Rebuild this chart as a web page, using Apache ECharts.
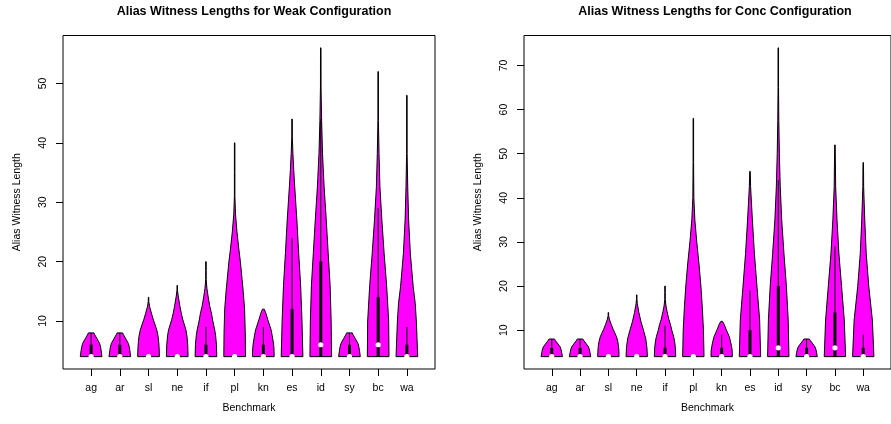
<!DOCTYPE html>
<html>
<head>
<meta charset="utf-8">
<script src="https://cdn.jsdelivr.net/npm/echarts@6/dist/echarts.min.js"></script>
<style>
  html, body { margin: 0; padding: 0; background: #fff; }
  #chart { width: 891px; height: 424px; }
</style>
</head>
<body>
<div id="chart"></div>
<script>
const benchmarks = ["ag", "ar", "sl", "ne", "if", "pl", "kn", "es", "id", "sy", "bc", "wa"];

const weakTicks = [10, 20, 30, 40, 50];
const concTicks = [10, 20, 30, 40, 50, 60, 70];

// violin outlines: [length, width relative to widest point]
const smallHouse = [[4, 1], [5, 0.93], [5.5, 0.89], [6.2, 0.8], [7.1, 0.54], [7.7, 0.36], [8, 0.29]];
const slShape = [[4, 1], [5.5, 0.98], [6.5, 0.94], [7.5, 0.88], [8.5, 0.77], [9.5, 0.6], [10.2, 0.47], [11.3, 0.3], [12.5, 0.13], [13.3, 0.06], [14, 0.03]];
const knShape = [[4, 1], [5.5, 0.98], [6.3, 0.93], [7.5, 0.83], [8.5, 0.73], [10.2, 0.44], [11.3, 0.27], [12, 0.12]];
const ifShape = [[4, 1], [6, 0.97], [7.5, 0.9], [8.5, 0.82], [10, 0.65], [11.3, 0.53], [12.5, 0.38], [14.2, 0.23], [15.5, 0.13], [17, 0.06], [18.5, 0.03], [20, 0.02]];

const weakShapes = [
  smallHouse,
  smallHouse,
  slShape,
  [[4, 1], [6, 0.97], [7.5, 0.9], [8.5, 0.81], [10.2, 0.54], [11.3, 0.4], [12.5, 0.28], [14.2, 0.13], [15.2, 0.06], [16, 0.03]],
  ifShape,
  [[4, 1], [8, 0.98], [12, 0.92], [15, 0.8], [17, 0.7], [20, 0.55], [22, 0.42], [25, 0.25], [28, 0.12], [31, 0.06], [35, 0.03], [40, 0.02]],
  knShape,
  [[4, 1], [10, 0.92], [16, 0.8], [21.4, 0.63], [27, 0.47], [32.6, 0.28], [35.5, 0.19], [38.2, 0.12], [41, 0.06], [44, 0.03]],
  [[4, 1], [10, 0.96], [16, 0.87], [21.4, 0.7], [27, 0.53], [32.6, 0.34], [38.2, 0.2], [43.8, 0.12], [49.4, 0.07], [56, 0.03]],
  smallHouse,
  [[4, 1], [10, 0.97], [16, 0.79], [21.4, 0.57], [27, 0.37], [32.6, 0.2], [38.2, 0.12], [43.8, 0.06], [52, 0.03]],
  [[4, 1], [10, 0.88], [13, 0.78], [15.8, 0.6], [21.4, 0.35], [27, 0.2], [32.6, 0.12], [38.2, 0.06], [48, 0.03]]
];
const weakQ1 = [4, 4, 4, 4, 4, 4, 4, 4, 4, 4, 4, 4];
const weakMedian = [4, 4, 4, 4, 4, 4, 4, 4, 6, 4, 6, 4];
const weakQ3 = [6, 6, 4, 4, 6, 4, 6, 12, 20, 6, 14, 6];
const weakWhisker = [8, 8, 4, 4, 9, 4, 9, 24, 44, 8, 29, 9];

const concShapes = [
  smallHouse,
  smallHouse,
  slShape,
  [[4, 1], [6, 0.96], [8, 0.86], [10, 0.65], [12, 0.42], [14, 0.24], [16, 0.1], [17, 0.05], [18, 0.03]],
  ifShape,
  [[4, 1], [10, 0.95], [15, 0.85], [20, 0.72], [25, 0.55], [30, 0.35], [35, 0.18], [40, 0.09], [48, 0.04], [58, 0.02]],
  knShape,
  [[4, 1], [12.3, 0.91], [19.9, 0.67], [27.4, 0.44], [35, 0.26], [42.5, 0.1], [46, 0.03]],
  [[4, 1], [12.3, 0.93], [19.9, 0.77], [27.4, 0.55], [35, 0.35], [42.5, 0.22], [50, 0.14], [57.6, 0.09], [65, 0.05], [74, 0.03]],
  smallHouse,
  [[4, 1], [12.3, 0.88], [19.9, 0.64], [27.4, 0.4], [35, 0.23], [42.5, 0.11], [52, 0.03]],
  [[4, 1], [12.3, 0.86], [19.9, 0.54], [27.4, 0.31], [35, 0.18], [42.5, 0.08], [48, 0.03]]
];
const concQ1 = [4, 4, 4, 4, 4, 4, 4, 4, 4, 4, 4, 4];
const concMedian = [4, 4, 4, 4, 4, 4, 4, 4, 6, 4, 6, 4];
const concQ3 = [6, 6, 4, 4, 6, 4, 6, 10, 20, 6, 14, 6];
const concWhisker = [8, 8, 4, 4, 11, 4, 9, 19, 44, 8, 29, 9];

const HALF = 0.395;
const FONT = "'Liberation Sans', Arial, Helvetica, sans-serif";

// R style limits: data range padded by 4%
const yLimits = (shapes) => {
  const vals = shapes.flat().map((p) => p[0]);
  const lo = Math.min(...vals), hi = Math.max(...vals);
  const pad = (hi - lo) * 0.04;
  return [lo - pad, hi + pad];
};

const violinSeries = (idx, shapes, q1, med, q3, whisker) => ({
  type: "custom",
  xAxisIndex: idx,
  yAxisIndex: idx,
  clip: false,
  data: benchmarks.map((b, i) => [i + 1, med[i]]),
  renderItem: (params, api) => {
    const i = params.dataIndex;
    const x = i + 1;
    const shape = shapes[i];
    const full = api.size([HALF, 0])[0];
    // outer edge of the outline sits on the measured width
    const half = (w) => Math.max(w * full - 0.5, 0.25);
    const right = shape.map((p) => {
      const c = api.coord([x, p[0]]);
      return [c[0] + half(p[1]), c[1]];
    });
    const left = shape.slice().reverse().map((p) => {
      const c = api.coord([x, p[0]]);
      return [c[0] - half(p[1]), c[1]];
    });
    const lo = api.coord([x, q1[i]]);
    const hi = api.coord([x, q3[i]]);
    const wTop = api.coord([x, whisker[i]]);
    const m = api.coord([x, med[i]]);
    return {
      type: "group",
      children: [
        { type: "polygon", shape: { points: right.concat(left) }, style: { fill: "#ff00ff", stroke: "#000", lineWidth: 1 } },
        { type: "line", shape: { x1: lo[0], y1: lo[1], x2: lo[0], y2: wTop[1] }, style: { stroke: "#000", lineWidth: 1 } },
        { type: "rect", shape: { x: lo[0] - 1.5, y: hi[1], width: 3, height: lo[1] - hi[1] }, style: { fill: "#000" } },
        { type: "circle", shape: { cx: m[0], cy: m[1], r: 2.6 }, style: { fill: "#fff" } }
      ]
    };
  }
});

const xAxisFor = (idx) => ({
  type: "value",
  gridIndex: idx,
  min: 0.02,
  max: 12.98,
  name: "Benchmark",
  nameLocation: "middle",
  nameGap: 34,
  nameTextStyle: { fontFamily: FONT, fontSize: 10.5, color: "#000" },
  axisLine: { show: false, onZero: false },
  axisTick: { show: true, length: 7, lineStyle: { color: "#000" }, customValues: benchmarks.map((b, i) => i + 1) },
  axisLabel: {
    margin: 14,
    fontFamily: FONT,
    fontSize: 10.5,
    color: "#000",
    customValues: benchmarks.map((b, i) => i + 1),
    formatter: (v) => benchmarks[Math.round(v) - 1]
  },
  splitLine: { show: false }
});

const yAxisFor = (idx, shapes, ticks) => {
  const [lo, hi] = yLimits(shapes);
  return {
    type: "value",
    gridIndex: idx,
    min: lo,
    max: hi,
    name: "Alias Witness Length",
    nameLocation: "middle",
    nameGap: 40,
    nameTextStyle: { fontFamily: FONT, fontSize: 10.5, color: "#000" },
    axisLine: { show: false, onZero: false },
    axisTick: { show: true, length: 7, lineStyle: { color: "#000" }, customValues: ticks },
    axisLabel: { margin: 14, rotate: 90, fontFamily: FONT, fontSize: 10.5, color: "#000", customValues: ticks },
    splitLine: { show: false }
  };
};

const chart = echarts.init(document.getElementById("chart"), null, { renderer: "canvas" });

chart.setOption({
  animation: false,
  backgroundColor: "#fff",
  title: [
    { text: "Alias Witness Lengths for Weak Configuration", left: 249, top: 0, textAlign: "center",
      textStyle: { fontFamily: FONT, fontSize: 12.5, fontWeight: "bold", color: "#000" } },
    { text: "Alias Witness Lengths for Conc Configuration", left: 710, top: 0, textAlign: "center",
      textStyle: { fontFamily: FONT, fontSize: 12.5, fontWeight: "bold", color: "#000" } }
  ],
  grid: [
    { left: 63, top: 35.5, width: 372, height: 333.5, show: true, borderColor: "#000", borderWidth: 1, backgroundColor: "transparent" },
    { left: 524, top: 35.5, width: 372, height: 333.5, show: true, borderColor: "#000", borderWidth: 1, backgroundColor: "transparent" }
  ],
  xAxis: [xAxisFor(0), xAxisFor(1)],
  yAxis: [yAxisFor(0, weakShapes, weakTicks), yAxisFor(1, concShapes, concTicks)],
  series: [
    violinSeries(0, weakShapes, weakQ1, weakMedian, weakQ3, weakWhisker),
    violinSeries(1, concShapes, concQ1, concMedian, concQ3, concWhisker)
  ]
});
</script>
</body>
</html>
